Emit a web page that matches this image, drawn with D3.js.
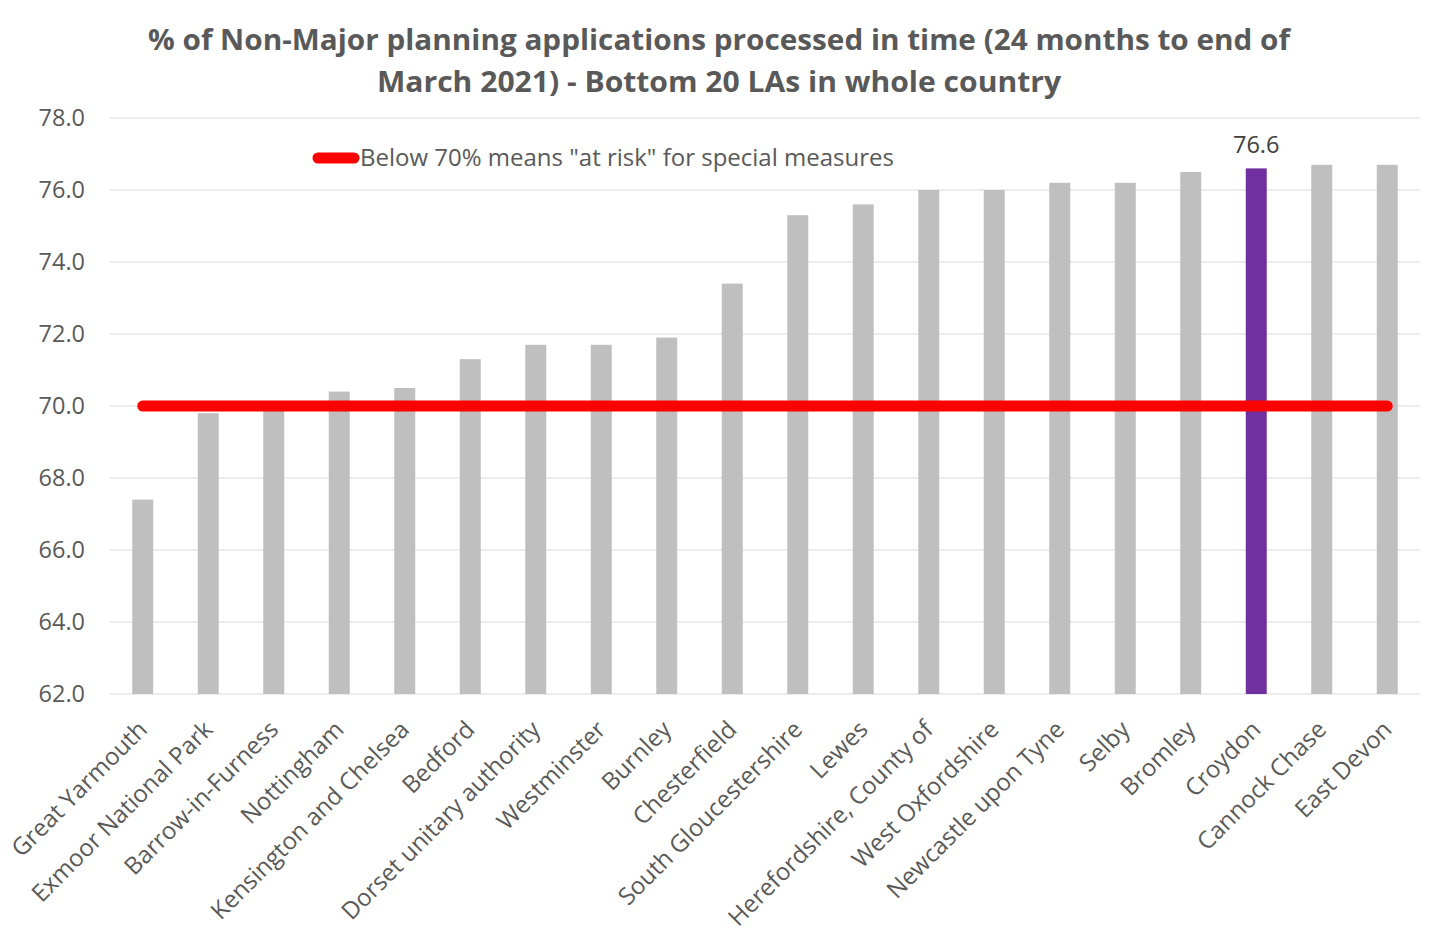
<!DOCTYPE html>
<html>
<head>
<meta charset="utf-8">
<script src="https://cdn.jsdelivr.net/npm/d3@7"></script>
<style>
  html, body { margin: 0; padding: 0; background: #fff; }
  svg { display: block; font-family: "Open Sans", "Noto Sans", sans-serif; }
</style>
</head>
<body>
<svg id="chart" width="1434" height="945"></svg>
<script>
// Local authorities, lowest 20 by share of non-major applications decided in time
const categories = [
  "Great Yarmouth", "Exmoor National Park", "Barrow-in-Furness", "Nottingham",
  "Kensington and Chelsea", "Bedford", "Dorset unitary authority", "Westminster",
  "Burnley", "Chesterfield", "South Gloucestershire", "Lewes",
  "Herefordshire, County of", "West Oxfordshire", "Newcastle upon Tyne", "Selby",
  "Bromley", "Croydon", "Cannock Chase", "East Devon"
];
const values = [
  67.4, 69.8, 70.0, 70.4, 70.5, 71.3, 71.7, 71.7, 71.9, 73.4,
  75.3, 75.6, 76.0, 76.0, 76.2, 76.2, 76.5, 76.6, 76.7, 76.7
];
const threshold = categories.map(() => 70.0);
const highlighted = "Croydon";
const yTicks = [62, 64, 66, 68, 70, 72, 74, 76, 78];
const titleLines = [
  "% of Non-Major planning applications processed in time (24 months to end of",
  "March 2021) - Bottom 20 LAs in whole country"
];
const legendLabel = "Below 70% means \"at risk\" for special measures";

const svg = d3.select("#chart");
const plot = { left: 110, right: 1420, top: 118, bottom: 694 };

const x = d3.scaleBand()
  .domain(categories)
  .range([plot.left, plot.right])
  .paddingInner(0.68)
  .paddingOuter(0.34);

const y = d3.scaleLinear()
  .domain([62, 78])
  .range([plot.bottom, plot.top]);

// Title
const titleWidths = [1142, 684];
const titleY = [50, 92];
titleLines.forEach((t, i) => {
  svg.append("text")
    .attr("x", 719)
    .attr("y", titleY[i])
    .attr("text-anchor", "middle")
    .attr("font-size", 29)
    .attr("font-weight", 700)
    .attr("fill", "#595959")
    .attr("textLength", titleWidths[i])
    .attr("lengthAdjust", "spacingAndGlyphs")
    .text(t);
});

// Gridlines
svg.append("g")
  .selectAll("line")
  .data(yTicks)
  .join("line")
  .attr("x1", plot.left)
  .attr("x2", plot.right)
  .attr("y1", d => y(d))
  .attr("y2", d => y(d))
  .attr("stroke", "#d9d9d9")
  .attr("stroke-width", 1);

// Y axis labels
const yAxis = d3.axisLeft(y)
  .tickValues(yTicks)
  .tickFormat(d3.format(".1f"))
  .tickSize(0)
  .tickPadding(25);
const yg = svg.append("g")
  .attr("transform", `translate(${plot.left},0)`)
  .call(yAxis);
yg.select(".domain").remove();
yg.selectAll("text")
  .attr("font-size", 23.5)
  .attr("fill", "#595959")
  .attr("font-family", "'Open Sans', sans-serif");

// Bars
svg.append("g")
  .selectAll("rect")
  .data(categories.map((c, i) => ({ c, v: values[i] })))
  .join("rect")
  .attr("x", d => x(d.c))
  .attr("width", x.bandwidth())
  .attr("y", d => y(d.v))
  .attr("height", d => y(62) - y(d.v))
  .attr("fill", d => d.c === highlighted ? "#7030a0" : "#bfbfbf");

// Value label on highlighted bar
const hi = categories.indexOf(highlighted);
svg.append("text")
  .attr("x", x(highlighted) + x.bandwidth() / 2)
  .attr("y", y(values[hi]) - 15)
  .attr("text-anchor", "middle")
  .attr("font-size", 23.5)
  .attr("fill", "#404040")
  .text(d3.format(".1f")(values[hi]));

// Threshold line across the category centres
const line = d3.line()
  .x((d, i) => x(categories[i]) + x.bandwidth() / 2)
  .y(d => y(d));
svg.append("path")
  .datum(threshold)
  .attr("d", line)
  .attr("fill", "none")
  .attr("stroke", "#ff0000")
  .attr("stroke-width", 11)
  .attr("stroke-linecap", "round");

// Legend
svg.append("line")
  .attr("x1", 318).attr("x2", 354)
  .attr("y1", 158).attr("y2", 158)
  .attr("stroke", "#ff0000")
  .attr("stroke-width", 11)
  .attr("stroke-linecap", "round");
svg.append("text")
  .attr("x", 360)
  .attr("y", 166)
  .attr("font-size", 24)
  .attr("fill", "#595959")
  .text(legendLabel);

// Category labels, rotated
const xAxis = d3.axisBottom(x).tickSize(0).tickPadding(0);
const xg = svg.append("g")
  .attr("transform", `translate(0,${plot.bottom})`)
  .call(xAxis);
xg.select(".domain").remove();
xg.selectAll(".tick text")
  .attr("font-size", 24)
  .attr("fill", "#595959")
  .attr("font-family", "'Open Sans', sans-serif")
  .attr("text-anchor", "end")
  .attr("dy", null)
  .attr("y", 0)
  .attr("transform", "translate(6,37) rotate(-45)");
</script>
</body>
</html>
